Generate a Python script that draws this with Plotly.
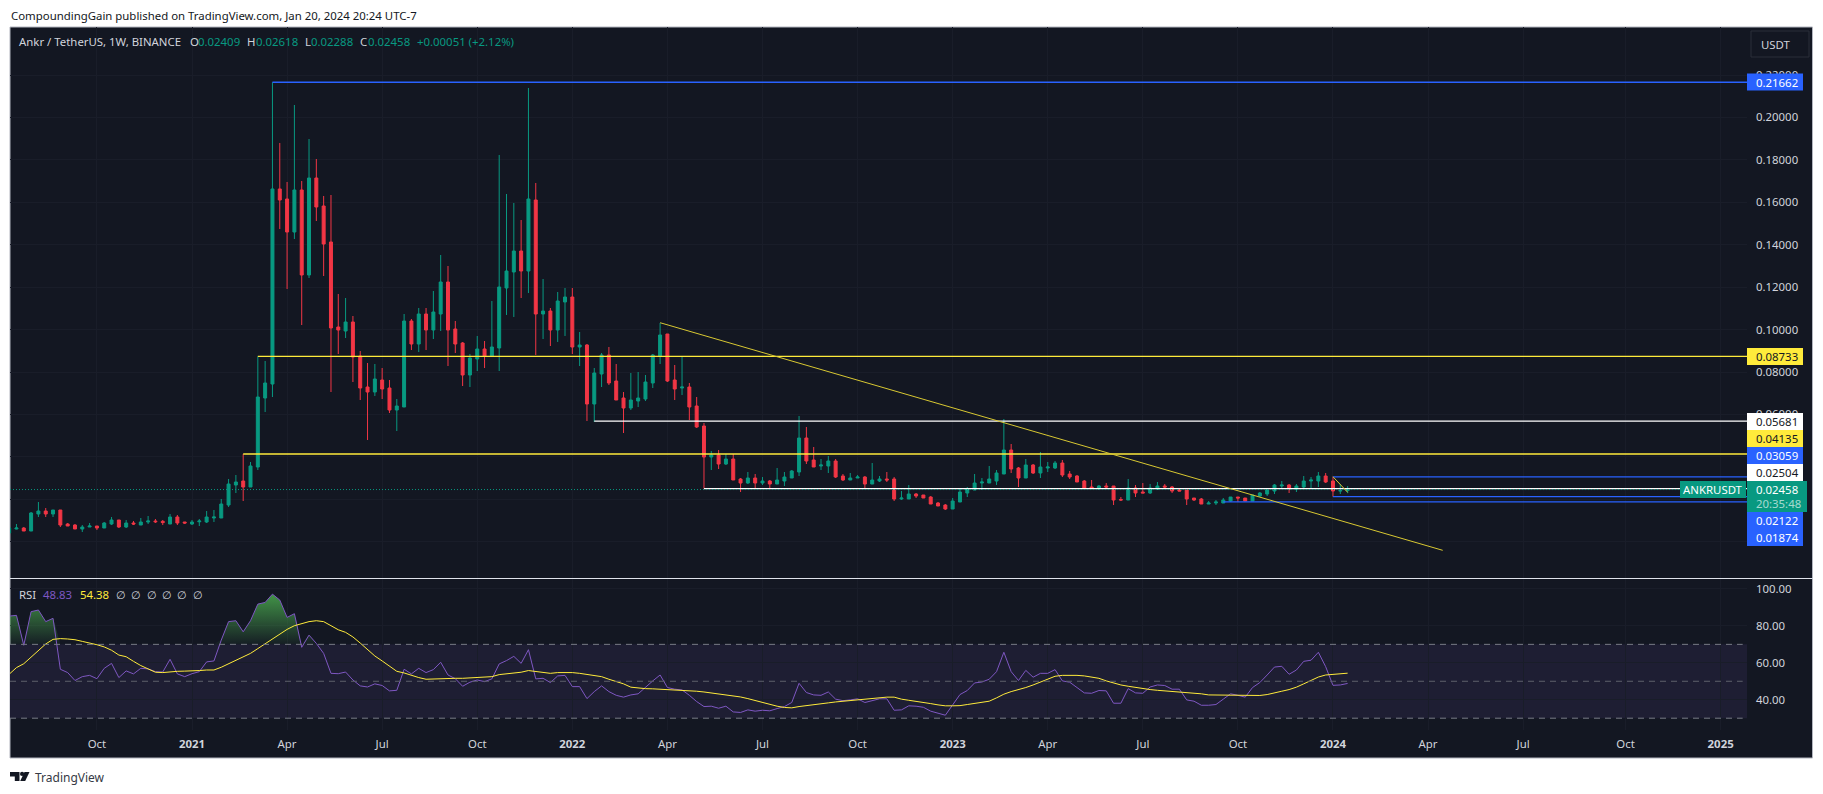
import numpy as np
import pandas as pd
import plotly.graph_objects as go
from plotly.subplots import make_subplots

# window size in px, layout below is worked out from these
W, H = 1823, 794

bg = '#131722'
grid = '#191d29'
green = '#089981'
red = '#f23645'
blue = '#2962ff'
yellow = '#ffeb3b'
white = '#ffffff'
purple = '#7e57c2'
txt = '#d1d4dc'
font_name = 'Noto Sans'
font_size = 11.4

# weekly candles
opens = [.00409,.00598,.00645,.00503,.01306,.01447,.01306,.01494,.00834,.00786,.00598,.00692,.00739,.00645,.00834,.01022,.00692,.00881,.00786,.00928,
         .00975,.0096,.00834,.01164,.00928,.00834,.0094,.00928,.01117,.01117,.01729,.02672,.02861,.02578,.03521,.06774,.07434,.16629,.16157,.14601,
         .16582,.12574,.17147,.15827,.1413,.10122,.09933,.10358,.08755,.07293,.07057,.07623,.07246,.06208,.0635,.10405,.0932,.10735,.0998,.10735,
         .12244,.10027,.09367,.07859,.08613,.09085,.08755,.09132,.11961,.12715,.13705,.12762,.1611,.10735,.10876,.0998,.11301,.11536,.09179,.09273,
         .06491,.07906,.08802,.07576,.06774,.06303,.06633,.06727,.07482,.08755,.09792,.07623,.07246,.07293,.06397,.05454,.03992,.04087,.03662,.03898,
         .02955,.02766,.03002,.02766,.02861,.02719,.02861,.03002,.03285,.04888,.03851,.03568,.03568,.03804,.03097,.02908,.03002,.03049,.02719,.02861,
         .02955,.02955,.02012,.02012,.02248,.02201,.02106,.01824,.01729,.01541,.01871,.02295,.02436,.02766,.02766,.02861,.03191,.04323,.03474,.03002,
         .03615,.03238,.03474,.03474,.03709,.03191,.03097,.02861,.02578,.02531,.02625,.02625,.01988,.01965,.02531,.02342,.02295,.02484,.02625,.02578,
         .02436,.02436,.02059,.02012,.01776,.01824,.01824,.01918,.02106,.02059,.01918,.02154,.02248,.02389,.02625,.02672,.02484,.02578,.02861,.02861,
         .03097,.02861,.02389,.02409]
highs = [.0075,.00834,.00692,.0140,.01871,.01588,.01494,.01494,.00881,.00834,.00786,.00881,.00739,.00928,.01164,.01022,.01022,.00975,.01117,.01211,
         .0107,.01022,.01306,.01258,.00928,.01022,.0107,.01447,.01494,.02012,.02955,.03144,.04135,.03757,.08733,.08519,.21662,.18798,.16959,.20589,
         .17006,.18986,.18043,.16299,.16346,.11678,.11489,.10641,.0899,.08425,.08377,.08189,.07623,.06727,.10735,.10499,.11018,.11018,.11819,.13517,
         .12998,.10405,.09415,.08849,.09698,.09462,.11348,.18232,.16393,.15969,.15167,.21391,.16912,.12385,.11018,.11772,.11961,.11961,.09886,.0932,
         .08189,.08896,.09179,.08377,.07057,.07953,.08,.07859,.08849,.1031,.09792,.0833,.08707,.07482,.06821,.05596,.04275,.04323,.04134,.04134,
         .03002,.03285,.03191,.03049,.02908,.03474,.03285,.0338,.05926,.05407,.04464,.03898,.0404,.03898,.03191,.03238,.03144,.03097,.03709,.03097,
         .03285,.03049,.02389,.02672,.02295,.02201,.02154,.01871,.01776,.02059,.02531,.02578,.03191,.03002,.03568,.0338,.05784,.04605,.03521,.03898,
         .03662,.04228,.03757,.03804,.03851,.03333,.03144,.02908,.02908,.02672,.02766,.02625,.02106,.02955,.02672,.02766,.02719,.02814,.02719,.02625,
         .02531,.02436,.02059,.02059,.01918,.01965,.02059,.02106,.02106,.02059,.02201,.02342,.02484,.02719,.02861,.02719,.02719,.03097,.03049,.03285,
         .03238,.03059,.02719,.02618]
lows = [.00409,.0058,.00503,.00503,.01164,.01164,.01164,.00692,.00739,.00598,.00456,.00692,.00551,.00645,.00786,.00645,.00645,.00786,.00786,.00834,
        .00881,.00786,.00834,.00786,.00834,.00786,.00739,.00881,.00928,.01117,.01635,.02295,.01918,.02578,.0338,.06114,.06821,.14743,.11914,.14271,
        .10216,.12432,.1512,.12527,.07057,.08849,.09603,.07529,.0668,.04794,.06869,.06727,.06067,.05218,.0635,.09037,.08943,.09037,.09556,.09933,
        .08283,.08896,.0734,.07293,.08047,.08189,.08755,.08047,.10688,.10594,.11489,.11725,.08802,.09556,.09226,.09415,.09698,.08849,.08283,.0569,
        .05643,.07293,.07387,.0668,.05124,.06208,.0635,.06633,.07246,.08377,.07529,.0668,.06916,.05737,.0536,.02504,.0338,.03427,.03615,.02908,
        .02342,.02719,.02531,.02672,.02531,.02719,.02625,.03002,.03097,.03662,.03521,.0338,.03238,.03002,.02861,.02908,.03002,.02531,.02719,.02814,
        .02814,.01918,.01965,.02012,.02059,.02059,.01776,.01682,.01494,.01541,.01871,.02106,.02436,.02436,.02766,.02672,.03191,.03238,.02578,.03002,
        .03191,.03002,.03285,.03427,.03049,.02955,.02814,.02484,.02484,.02436,.02484,.01729,.01918,.01965,.02106,.02295,.02248,.02436,.02484,.02295,
        .02389,.01729,.01918,.01776,.01776,.01729,.01824,.01874,.01871,.01918,.01918,.02106,.02154,.02248,.02484,.02295,.02342,.02531,.02484,.02578,
        .02766,.02122,.02248,.02288]
closes = [.00645,.00645,.00503,.01353,.01447,.01306,.01494,.00786,.00739,.00598,.00692,.00739,.00645,.00881,.01022,.00692,.00881,.00834,.00928,.00975,
          .0094,.0090,.01164,.00881,.00881,.00928,.00975,.01164,.01164,.01776,.02719,.02814,.02578,.03569,.06821,.07482,.16629,.1611,.14601,.16582,
          .12574,.17147,.1578,.14035,.10075,.0998,.10358,.08707,.07246,.07057,.0767,.07199,.06208,.06397,.10405,.0932,.10735,.0998,.10829,.12244,
          .0998,.0932,.07859,.0866,.09085,.08755,.09179,.12008,.12762,.13705,.12762,.16157,.10735,.10876,.0998,.11348,.11536,.09179,.09273,.06491,
          .07953,.08802,.07482,.0668,.06303,.0668,.06774,.07529,.08802,.09745,.07576,.07199,.07293,.0635,.05407,.03992,.04087,.03662,.03898,.02908,
          .02766,.03002,.02766,.02861,.02719,.02908,.03049,.03333,.04888,.03804,.03521,.03615,.03804,.03049,.02908,.03002,.03049,.02719,.02908,.02955,
          .02908,.02012,.02059,.02248,.02154,.02059,.01776,.01682,.01541,.01918,.02342,.02484,.02766,.02814,.02955,.03238,.04323,.03427,.03002,.03615,
          .03238,.03521,.03521,.03709,.03144,.03049,.02814,.02531,.02531,.02625,.02578,.01965,.01965,.02531,.02295,.02295,.02531,.02625,.02578,.02389,
          .02389,.02012,.01965,.01776,.01824,.01871,.01965,.02106,.02059,.01918,.02201,.02295,.02436,.02672,.02672,.02484,.02625,.02861,.02908,.03097,
          .02814,.02389,.02407,.02458]

rsi = [85.3,85.7,69.5,87.7,88.6,82.3,84.1,56.5,54.7,50.4,52.5,53.2,51.4,57.0,59.7,52.0,55.6,54.0,57.0,56.7,
       55.2,55.0,61.9,54.0,52.5,54.1,55.2,60.5,61.0,72.3,82.3,82.8,76.8,82.8,91.8,92.7,97.2,94.0,84.6,86.6,
       68.4,75.0,70.5,65.1,54.3,54.1,55.0,50.7,47.5,46.9,48.6,47.7,44.8,45.1,56.5,54.0,57.0,54.7,56.3,60.3,
       53.4,51.4,47.3,49.5,50.7,49.8,51.3,59.4,61.2,63.5,59.7,67.1,51.3,51.6,49.3,52.9,53.2,47.1,47.1,40.6,
       44.4,47.5,44.4,42.4,41.4,42.6,43.2,46.8,50.2,53.4,46.6,45.7,45.3,42.4,39.0,36.3,36.5,35.4,36.5,33.4,
       33.1,34.5,33.8,34.3,34.0,35.2,36.3,38.5,48.9,43.9,42.6,42.4,44.2,40.3,39.5,39.9,40.5,38.5,39.5,40.5,
       40.5,34.3,34.5,36.7,36.5,35.9,33.8,32.9,31.6,37.2,42.8,45.0,49.1,49.6,51.1,55.2,65.7,55.2,50.4,55.9,
       52.2,54.3,54.3,56.3,50.2,49.5,46.6,43.7,43.5,45.0,44.8,38.1,38.1,46.0,43.7,43.5,46.9,48.0,47.7,45.7,
       45.7,39.9,39.2,37.0,37.0,37.4,40.3,43.2,42.4,41.4,46.6,49.3,53.4,57.7,58.1,53.8,56.1,60.8,61.4,65.7,
       57.9,47.8,48.0,48.83]
rsi_ma = [53.8,57.4,59.5,63.0,66.9,70.2,72.7,73.1,72.9,72.5,71.6,70.9,69.8,68.6,66.8,64.2,63.3,60.8,58.5,56.7,
          54.9,54.7,55.2,55.4,55.5,55.5,55.8,56.1,56.1,57.6,59.4,61.5,63.0,65.1,67.7,70.2,72.9,75.6,78.1,80.1,
          81.2,82.3,82.8,82.3,80.1,77.9,76.5,74.0,70.7,67.3,63.7,61.0,58.3,55.4,54.5,53.1,52.0,51.1,51.3,51.6,
          51.6,51.6,51.6,51.8,51.8,52.0,52.5,53.6,54.0,54.5,54.9,55.8,55.4,54.7,54.3,54.7,54.9,54.7,54.3,53.8,
          53.4,52.5,51.1,49.8,48.6,46.8,46.2,46.0,45.9,45.7,45.3,45.3,45.3,45.1,44.6,44.2,43.7,43.2,42.8,42.1,
          41.5,40.6,39.5,38.3,37.4,36.5,35.8,35.6,36.3,36.7,37.2,37.7,38.3,38.8,39.2,39.5,39.9,40.5,40.8,41.2,
          41.4,41.4,40.3,39.7,39.2,38.6,37.9,37.2,36.7,36.7,36.8,37.4,37.9,38.5,39.2,41.0,43.0,44.4,45.3,46.6,
          48.0,49.5,51.1,52.7,53.2,53.4,53.2,52.9,52.3,51.6,50.2,48.9,48.0,47.3,46.6,46.0,45.5,45.1,44.8,44.6,
          44.4,44.1,43.7,43.2,42.6,42.5,42.5,42.4,42.3,42.1,42.1,42.3,42.8,43.9,44.6,45.5,46.8,48.6,50.4,52.3,
          53.4,53.6,54.1,54.38]

weeks = pd.date_range('2020-07-13', periods=len(opens), freq='7D')

# drawn levels: price, first bar, colour
level_prices = [0.21662, 0.08733, 0.05681, 0.04135, 0.03059, 0.02504, 0.02122, 0.01874]
level_starts = ['2021-03-22', '2021-03-08', '2022-01-24', '2021-02-22', '2024-01-01', '2022-05-09', '2024-01-01', '2023-09-18']
level_colors = [blue, yellow, white, yellow, blue, white, blue, blue]

trend_dates = ['2022-03-28', '2024-04-15']
trend_prices = [0.10324, -0.00407]
trend2_dates = ['2024-01-01', '2024-01-15']
trend2_prices = [0.03063, 0.02329]
last_price = 0.02458

price_ticks = [0.22, 0.20, 0.18, 0.16, 0.14, 0.12, 0.10, 0.08, 0.06, 0.04, 0.02, 0.0]
price_labels = ['0.22000', '0.20000', '0.18000', '0.16000', '0.14000', '0.12000', '0.10000', '0.08000', '0.06000', '', '', '']
rsi_ticks = [40, 60, 80, 100]
rsi_labels = ['40.00', '60.00', '80.00', '100.00']
time_ticks = ['2020-10-05', '2021-01-04', '2021-04-05', '2021-07-05', '2021-10-04', '2022-01-03', '2022-04-04', '2022-07-04', '2022-10-03',
              '2023-01-02', '2023-04-03', '2023-07-03', '2023-10-02', '2024-01-01', '2024-04-01', '2024-07-01', '2024-10-07', '2025-01-06']
time_labels = ['Oct', '<b>2021</b>', 'Apr', 'Jul', 'Oct', '<b>2022</b>', 'Apr', 'Jul', 'Oct',
               '<b>2023</b>', 'Apr', 'Jul', 'Oct', '<b>2024</b>', 'Apr', 'Jul', 'Oct', '<b>2025</b>']

# time axis span, 7.314 px per weekly bar with the 2021 bar at x=192
bar_px = 7.314
origin = pd.Timestamp('2021-01-04')
x_start = origin + pd.Timedelta(weeks=(10 - 192) / bar_px)
x_end = origin + pd.Timedelta(weeks=(1747 - 192) / bar_px)


def px(x):
    return x / W


def py(y):
    return 1 - y / H


fig = make_subplots(rows=2, cols=1, shared_xaxes=True)

fig.add_trace(go.Candlestick(x=weeks, open=opens, high=highs, low=lows, close=closes, whiskerwidth=0,
                             increasing=dict(line=dict(color=green, width=1), fillcolor=green),
                             decreasing=dict(line=dict(color=red, width=1), fillcolor=red)), row=1, col=1)

for price, start, colour in zip(level_prices, level_starts, level_colors):
    fig.add_trace(go.Scatter(x=[start, x_end], y=[price, price], mode='lines',
                             line=dict(color=colour, width=1.3)), row=1, col=1)

fig.add_trace(go.Scatter(x=[x_start, x_end], y=[last_price, last_price], mode='lines',
                         line=dict(color=green, width=1, dash='1px,2px')), row=1, col=1)
fig.add_trace(go.Scatter(x=trend_dates, y=trend_prices, mode='lines',
                         line=dict(color='#d8c832', width=1)), row=1, col=1)
fig.add_trace(go.Scatter(x=trend2_dates, y=trend2_prices, mode='lines',
                         line=dict(color='#d8c832', width=1)), row=1, col=1)

# green fill above the 70 line
rsi_over = np.maximum(rsi, 70)
fig.add_trace(go.Scatter(x=weeks, y=[70] * len(weeks), mode='lines', line=dict(width=0)), row=2, col=1)
fig.add_trace(go.Scatter(x=weeks, y=rsi_over, mode='lines', line=dict(width=0), fill='tonexty',
                         fillgradient=dict(type='vertical', start=100, stop=70,
                                           colorscale=[[0, 'rgba(76,175,80,0.9)'], [1, 'rgba(76,175,80,0.05)']])),
              row=2, col=1)
fig.add_trace(go.Scatter(x=weeks, y=rsi, mode='lines', line=dict(color=purple, width=1)), row=2, col=1)
fig.add_trace(go.Scatter(x=weeks, y=rsi_ma, mode='lines', line=dict(color=yellow, width=1)), row=2, col=1)

shapes = []
# dark chart frame behind everything
shapes.append(dict(type='rect', xref='paper', yref='paper', x0=px(10), x1=px(1812.5), y0=py(758), y1=py(27),
                   fillcolor=bg, line=dict(color='#b2b5be', width=1), layer='below'))
# rsi band and its dashed levels
shapes.append(dict(type='rect', xref='x2 domain', yref='y2', x0=0, x1=1, y0=30, y1=70,
                   fillcolor='#1e1e33', line=dict(width=0), layer='below'))
for level, colour in [(70, '#787b86'), (50, '#5d5f6b'), (30, '#787b86')]:
    shapes.append(dict(type='line', xref='x2 domain', yref='y2', x0=0, x1=0.9975, y0=level, y1=level,
                       line=dict(color=colour, width=1, dash='6px,5px')))
# pane separator
shapes.append(dict(type='line', xref='paper', yref='paper', x0=px(10), x1=px(1812.5), y0=py(578.5), y1=py(578.5),
                   line=dict(color='#e0e3eb', width=1), layer='above'))
# USDT button
shapes.append(dict(type='rect', xref='paper', yref='paper', x0=px(1751), x1=px(1809), y0=py(57), y1=py(31),
                   fillcolor=bg, line=dict(color='#2a2e39', width=1), layer='above'))

notes = []


def text(x, y, s, color=txt, size=font_size, anchor='left'):
    notes.append(dict(xref='paper', yref='paper', x=px(x), y=py(y), text=s, showarrow=False,
                      xanchor=anchor, yanchor='middle', align='left', borderpad=0,
                      font=dict(color=color, size=size, family=font_name)))


def tag(x0, x1, y0, y1, fill):
    shapes.append(dict(type='rect', xref='paper', yref='paper', x0=px(x0), x1=px(x1), y0=py(y1), y1=py(y0),
                       fillcolor=fill, line=dict(width=0), layer='above'))


# price tags on the scale, stacked as in the picture
tag_rows = [(73.5, 90.5, blue, '0.21662', white), (348, 365, yellow, '0.08733', bg), (413, 430, white, '0.05681', bg),
            (430, 447, yellow, '0.04135', bg), (447, 464, blue, '0.03059', white), (464, 481, white, '0.02504', bg),
            (512, 529, blue, '0.02122', white), (529, 546, blue, '0.01874', white)]
for y0, y1, fill, label, colour in tag_rows:
    tag(1747, 1803, y0, y1, fill)
    text(1755, (y0 + y1) / 2, label, colour)
tag(1747, 1807, 481, 512, green)
text(1755, 489.5, '0.02458', white)
text(1755, 503.5, '20:35:48', 'rgba(255,255,255,0.65)')
tag(1680, 1746, 481, 498, green)
text(1713, 489.5, 'ANKRUSDT', white, font_size, 'center')
text(1760, 44.5, 'USDT', txt)

# header lines
text(10, 15, 'CompoundingGain published on TradingView.com, Jan 20, 2024 20:24 UTC-7', bg)
text(18, 42, 'Ankr / TetherUS, 1W, BINANCE', txt)
ohlc_parts = [(189, 'O', txt), (197, '0.02409', green), (246, 'H', txt), (254.5, '0.02618', green), (303.5, 'L', txt),
              (310, '0.02288', green), (359, 'C', txt), (366.5, '0.02458', green), (415.5, '+0.00051 (+2.12%)', green)]
for x, s, colour in ohlc_parts:
    text(x, 42, s, colour)
text(18, 594, 'RSI', txt)
text(41.5, 594, '48.83', purple)
text(78.5, 594, '54.38', yellow)
for x in [115, 130, 146, 161, 176, 191.5]:
    text(x, 594, '∅', txt)
text(33.5, 777, 'TradingView', '#363a45', 12)


# TradingView logo
def poly(points):
    d = 'M' + ' L'.join(f'{px(a):.5f},{py(b):.5f}' for a, b in points) + ' Z'
    shapes.append(dict(type='path', xref='paper', yref='paper', path=d, fillcolor=bg, line=dict(width=0)))


poly([(10, 772), (19.5, 772), (19.5, 781), (14.8, 781), (14.8, 776.5), (10, 776.5)])
poly([(24.5, 772), (29.5, 772), (25.2, 781), (20.2, 781)])
shapes.append(dict(type='circle', xref='paper', yref='paper', x0=px(20), x1=px(24.2), y0=py(776), y1=py(771.8),
                   fillcolor=bg, line=dict(width=0)))

fig.update_layout(
    width=W, height=H,
    margin=dict(l=0, r=0, t=0, b=0),
    paper_bgcolor='#ffffff',
    plot_bgcolor='rgba(0,0,0,0)',
    showlegend=False,
    shapes=shapes,
    annotations=notes,
    hovermode=False,
    boxgap=0.42,
    font=dict(family=font_name),
)

axis_x = dict(range=[x_start, x_end], domain=[px(10), px(1747)], tickmode='array', tickvals=time_ticks,
              showgrid=True, gridcolor=grid, gridwidth=1, zeroline=False, showline=False, ticks='')
fig.update_xaxes(**axis_x)
fig.update_xaxes(rangeslider_visible=False, showticklabels=False, row=1, col=1)
fig.update_xaxes(ticktext=time_labels, showticklabels=True, tickfont=dict(color=txt, size=font_size),
                 ticklabelstandoff=6, row=2, col=1)

axis_y = dict(side='right', showgrid=True, gridcolor=grid, gridwidth=1, zeroline=False, showline=False, ticks='',
              tickmode='array', tickfont=dict(color=txt, size=font_size), ticklabelstandoff=8)
fig.update_yaxes(**axis_y)
fig.update_yaxes(domain=[py(578), py(27)], range=[-0.01712, 0.24266], tickvals=price_ticks, ticktext=price_labels, row=1, col=1)
fig.update_yaxes(domain=[py(730), py(579)], range=[23.6, 105.4], tickvals=rsi_ticks, ticktext=rsi_labels, row=2, col=1)

fig.write_html("out.html", config=dict(displayModeBar=False),
               post_script="document.body.style.margin='0';document.body.style.overflow='hidden';")
